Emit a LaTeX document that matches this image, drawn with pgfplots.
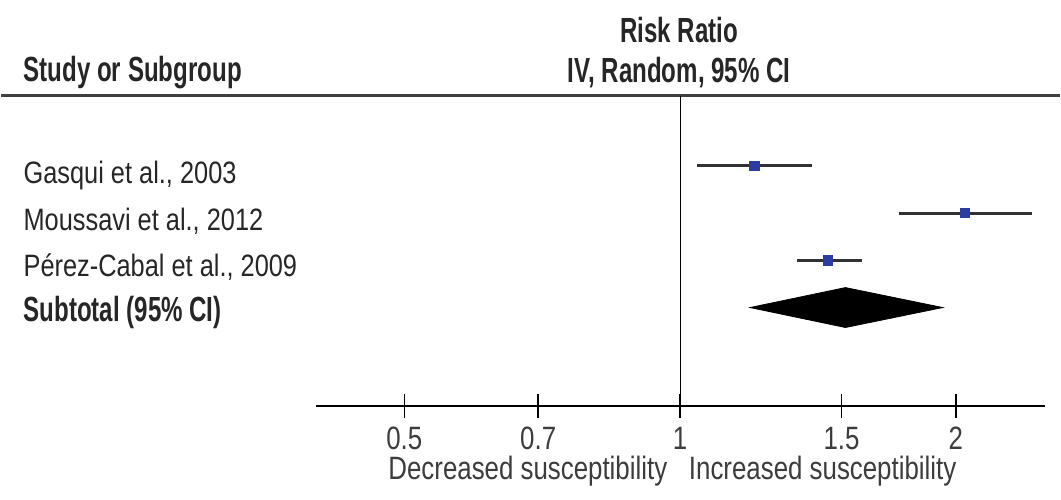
\documentclass[border=0pt]{standalone}
\usepackage{pgfplots}
\pgfplotsset{compat=1.18}
\usepackage{fontspec}
\setmainfont{Liberation Sans}
\newfontfamily\rf[FakeStretch=0.82]{Liberation Sans}
\newfontfamily\hf[FakeStretch=0.69]{Liberation Sans}
\newfontfamily\tf[FakeStretch=0.80]{Liberation Sans}
\definecolor{ptblue}{RGB}{45,60,165}
\definecolor{cigray}{RGB}{50,50,50}
\definecolor{txtgray}{RGB}{60,60,60}
\begin{document}
\begin{tikzpicture}
\begin{axis}[
  scale only axis,
  width=365.5pt, height=155.5pt,
  xmode=log,
  xmin=0.4, xmax=2.5,
  ymin=-1.087, ymax=5.488,
  axis x line*=bottom,
  axis y line=none,
  axis line style={-, line width=1.4pt, black},
  xtick={0.5,0.7,1,1.5,2},
  xticklabels={0.5,0.7,1,1.5,2},
  log ticks with fixed point,
  minor xtick={},
  tick align=center,
  major tick length=12pt,
  xtick style={line width=0.8pt, black},
  xticklabel style={font=\fontsize{16.2}{18}\selectfont\tf, text=txtgray, yshift=-1pt},
  /pgf/number format/assume math mode=true,
  clip=false,
]
% invisible bounding box
\path (rel axis cs:-0.4309,-0.3023) rectangle (rel axis cs:1.0205,1.3087);
% header line
\draw[line width=1.3pt, black!75] (rel axis cs:-0.4309,1) -- (rel axis cs:1.0205,1);
% reference line
\draw[line width=0.6pt, black] (axis cs:1,-1.087) -- (axis cs:1,5.488);
% CIs
\addplot[cigray, line width=1.5pt] coordinates {(1.042,4) (1.394,4)};
\addplot[cigray, line width=1.5pt] coordinates {(1.733,3) (2.419,3)};
\addplot[cigray, line width=1.5pt] coordinates {(1.341,2) (1.581,2)};
% point estimates
\addplot[only marks, mark=square*, mark size=2.3pt, ptblue] coordinates {(1.205,4) (2.046,3) (1.451,2)};
% diamond
\addplot[fill=black, draw=black] coordinates {(1.192,1) (1.515,1.423) (1.935,1) (1.515,0.577)} -- cycle;
% texts
\node[font=\fontsize{17.5}{20}\selectfont\hf\bfseries, text=black!85] at (rel axis cs:0.4986,1.212) {Risk Ratio};
\node[font=\fontsize{17.5}{20}\selectfont\hf\bfseries, text=black!85] at (rel axis cs:0.4986,1.074) {IV, Random, 95\% CI};
\node[anchor=west, inner sep=0pt, font=\fontsize{17.5}{20}\selectfont\hf\bfseries, text=black!85] at (rel axis cs:-0.4008,1.074) {Study or Subgroup};
\node[anchor=west, inner sep=0pt, font=\fontsize{15.5}{18}\selectfont\rf, text=black!85] at (rel axis cs:-0.4008,0.7428) {Gasqui et al., 2003};
\node[anchor=west, inner sep=0pt, font=\fontsize{15.5}{18}\selectfont\rf, text=black!85] at (rel axis cs:-0.4008,0.5949) {Moussavi et al., 2012};
\node[anchor=west, inner sep=0pt, font=\fontsize{15.5}{18}\selectfont\rf, text=black!85] at (rel axis cs:-0.4008,0.4469) {Pérez-Cabal et al., 2009};
\node[anchor=west, inner sep=0pt, font=\fontsize{17.5}{20}\selectfont\hf\bfseries, text=black!85] at (rel axis cs:-0.4008,0.3023) {Subtotal (95\% CI)};
\node[anchor=east, inner sep=0pt, font=\fontsize{16.2}{18}\selectfont\tf, text=txtgray] at (rel axis cs:0.4829,-0.2090) {Decreased susceptibility};
\node[anchor=west, inner sep=0pt, font=\fontsize{16.2}{18}\selectfont\tf, text=txtgray] at (rel axis cs:0.5116,-0.2090) {Increased susceptibility};
\end{axis}
\end{tikzpicture}
\end{document}
